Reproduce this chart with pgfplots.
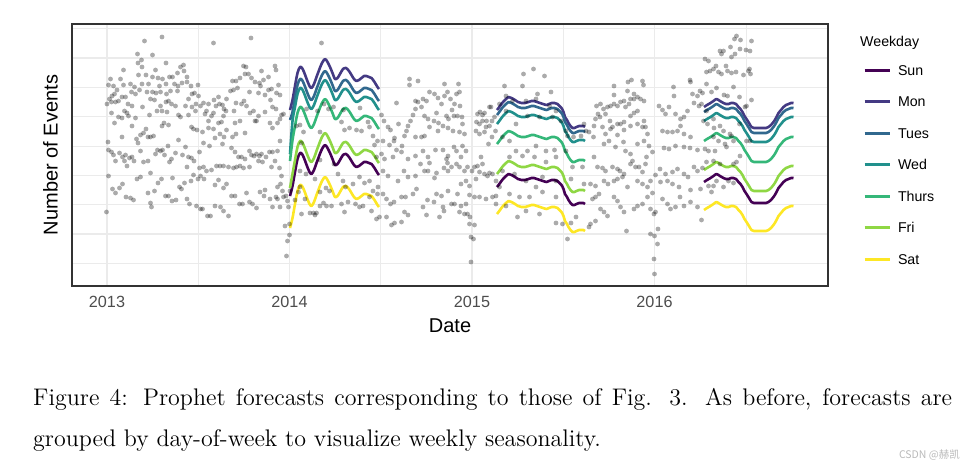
\documentclass[border=0pt]{standalone}
\usepackage{pgfplots}
\pgfplotsset{compat=1.18}
\usepackage{pgfplotstable}
\usepackage{fontspec}
\setmainfont{Liberation Sans}
\newfontfamily\cjkfont{Noto Sans CJK SC}
\font\capfont="[lmroman12-regular]" at 24pt
\definecolor{c1}{HTML}{440154}
\definecolor{c2}{HTML}{443A83}
\definecolor{c3}{HTML}{31688E}
\definecolor{c4}{HTML}{21908C}
\definecolor{c5}{HTML}{35B779}
\definecolor{c6}{HTML}{8FD744}
\definecolor{c7}{HTML}{FDE725}
\definecolor{gridc}{HTML}{EBEBEB}
\definecolor{framec}{HTML}{333333}
\definecolor{tickc}{HTML}{4D4D4D}
% observed daily events: d = days since 2013-01-01, y = count (arbitrary units)
\pgfplotstableread[row sep=\\]{d y\\
75 245\\ 110 249\\ 61 232\\ 91 231\\ 69 226\\ 62 223\\ 70 219\\ 118 223\\ 33 216\\ 97 216\\ 78 211\\ 63 211\\ 7 207\\ 27 207\\ 91 209\\ 102 208\\ 111 207\\ 125 209\\ 131 209\\ 141 213\\ 147 219\\ 153 221\\ 154 215\\ 160 209\\ 3 201\\ 13 200\\ 33 201\\ 47 202\\ 55 199\\ 70 202\\ 83 202\\ 105 200\\ 118 202\\ 135 202\\ 142 200\\ 150 203\\ 160 204\\ 168 200\\ 182 201\\ 20 196\\ 15 192\\ 10 190\\ 37 189\\ 49 194\\ 57 192\\ 65 196\\ 80 194\\ 91 194\\ 98 193\\ 107 194\\ 119 192\\ 127 195\\ 141 195\\ 170 192\\ 175 193\\ 183 190\\ 5 187\\ 0 182\\ 9 184\\ 17 184\\ 23 185\\ 30 189\\ 42 182\\ 50 180\\ 71 179\\ 87 187\\ 95 186\\ 107 180\\ 118 184\\ 123 185\\ 129 182\\ 137 180\\ 157 180\\ 163 187\\ 170 179\\ 178 182\\ 187 180\\ 9 173\\ 23 169\\ 30 168\\ 35 175\\ 40 173\\ 43 170\\ 57 168\\ 85 171\\ 100 175\\ 110 175\\ 120 174\\ 143 171\\ 147 169\\ 163 171\\ 177 175\\ 15 163\\ 30 149\\ 50 160\\ 59 147\\ 62 143\\ 67 151\\ 73 153\\ 78 157\\ 82 149\\ 87 149\\ 93 150\\ 110 160\\ 114 163\\ 123 161\\ 143 146\\ 157 139\\ 169 159\\ 173 157\\ 180 156\\ 2 144\\ 3 136\\ 9 134\\ 13 131\\ 17 125\\ 25 133\\ 31 129\\ 37 131\\ 35 125\\ 40 120\\ 45 128\\ 54 125\\ 50 129\\ 67 135\\ 73 124\\ 82 125\\ 87 113\\ 97 132\\ 101 136\\ 107 135\\ 111 136\\ 115 131\\ 122 140\\ 129 127\\ 125 124\\ 137 133\\ 151 131\\ 160 119\\ 163 129\\ 169 128\\ 174 125\\ 185 134\\ 185 118\\ 3 110\\ 11 97\\ 17 93\\ 25 98\\ 31 102\\ 38 89\\ 47 88\\ 53 86\\ 60 107\\ 67 109\\ 82 93\\ 87 83\\ 89 79\\ 95 95\\ 102 103\\ 109 107\\ 117 90\\ 123 90\\ 131 108\\ 130 85\\ 138 86\\ 145 99\\ 149 97\\ 155 103\\ 160 87\\ 165 82\\ 168 105\\ 173 111\\ 179 80\\ 182 107\\ 187 77\\ 187 110\\ -1 74\\
213 243\\ 288 248\\ 273 220\\ 278 219\\ 258 205\\ 266 208\\ 276 212\\ 283 212\\ 289 208\\ 296 204\\ 305 203\\ 309 215\\ 313 206\\ 323 209\\ 336 220\\ 338 216\\ 343 201\\ 307 200\\ 251 205\\ 247 195\\ 253 196\\ 261 198\\ 285 194\\ 303 193\\ 316 191\\ 323 196\\ 329 197\\ 327 186\\ 339 193\\ 346 191\\ 193 183\\ 203 182\\ 214 186\\ 223 189\\ 218 180\\ 225 182\\ 231 181\\ 234 177\\ 238 175\\ 239 187\\ 254 175\\ 258 183\\ 269 182\\ 279 180\\ 274 185\\ 286 173\\ 293 175\\ 299 165\\ 303 170\\ 316 174\\ 331 179\\ 338 177\\ 349 171\\ 353 172\\ 196 172\\ 199 175\\ 203 165\\ 209 170\\ 213 173\\ 223 163\\ 229 164\\ 233 170\\ 256 163\\ 266 165\\ 296 165\\ 326 163\\ 331 158\\ 341 163\\ 346 167\\ 191 154\\ 203 158\\ 213 157\\ 216 148\\ 226 152\\ 234 149\\ 239 156\\ 251 149\\ 258 152\\ 276 153\\ 346 145\\ 193 143\\ 205 140\\ 231 142\\ 249 138\\ 256 134\\ 263 129\\ 269 129\\ 276 127\\ 285 135\\ 289 131\\ 294 130\\ 299 132\\ 305 130\\ 309 132\\ 318 129\\ 325 134\\ 331 134\\ 341 135\\ 336 125\\ 345 118\\ 303 125\\ 311 124\\ 285 119\\ 273 118\\ 266 120\\ 259 119\\ 253 118\\ 243 119\\ 233 120\\ 226 120\\ 219 120\\ 209 116\\ 199 115\\ 193 119\\ 329 119\\ 194 107\\ 216 101\\ 223 106\\ 233 98\\ 239 102\\ 249 90\\ 256 90\\ 279 93\\ 306 94\\ 314 90\\ 316 96\\ 326 87\\ 341 99\\ 347 102\\ 349 110\\ 353 89\\ 338 89\\ 201 70\\ 207 70\\ 191 77\\ 216 80\\ 227 79\\ 233 75\\ 243 70\\ 265 82\\ 271 82\\ 285 84\\ 291 82\\ 299 78\\ 331 79\\ 341 87\\ 346 79\\ 361 85\\ 358 90\\ 363 79\\ 356 60\\ 365 62\\ 365 51\\ 361 45\\ 359 30\\ 366 95\\ 351 95\\
386 115\\ 398 112\\ 416 107\\ 439 80\\ 426 80\\ 416 71\\ 419 73\\ 396 87\\ 383 94\\ 426 94\\ 438 98\\ 445 95\\ 389 72\\ 399 177\\ 421 175\\ 434 182\\ 443 177\\ 429 243\\ 379 160\\ 393 154\\ 433 83\\ 413 73\\ 386 161\\ 389 143\\ 426 154\\ 386 99\\ 376 86\\ 406 73\\ 426 126\\ 453 179\\ 473 176\\ 506 178\\ 539 129\\
469 164\\ 475 156\\ 485 158\\ 499 156\\ 509 155\\ 522 164\\ 525 159\\ 532 150\\ 535 141\\ 541 145\\ 454 122\\ 462 112\\ 472 105\\ 477 99\\ 492 102\\ 505 109\\ 515 103\\ 525 105\\ 532 95\\ 541 92\\ 469 82\\ 482 84\\ 497 82\\ 505 79\\ 512 80\\ 525 89\\ 449 80\\ 475 74\\ 529 75\\ 549 171\\ 554 165\\ 562 159\\ 567 156\\ 575 148\\ 583 162\\ 579 136\\ 590 140\\ 595 150\\ 599 155\\ 602 160\\ 607 165\\ 612 171\\ 617 177\\ 622 184\\ 632 187\\ 639 185\\ 645 194\\ 655 192\\ 662 188\\ 669 182\\ 675 190\\ 681 194\\ 687 187\\ 695 182\\ 699 192\\ 675 202\\ 605 207\\ 605 201\\ 622 205\\ 579 183\\ 617 185\\ 629 179\\ 635 170\\ 642 167\\ 654 165\\ 659 173\\ 663 163\\ 679 170\\ 683 167\\ 690 176\\ 694 170\\ 617 149\\ 629 149\\ 635 150\\ 645 159\\ 662 155\\ 672 160\\ 682 158\\ 692 155\\ 552 145\\ 565 141\\ 574 145\\ 549 132\\ 555 127\\ 572 129\\ 589 134\\ 602 127\\ 617 130\\ 632 135\\ 642 129\\ 657 136\\ 672 136\\ 682 130\\ 694 139\\ 699 135\\ 552 115\\ 562 110\\ 582 105\\ 594 115\\ 602 109\\ 617 110\\ 627 122\\ 635 115\\ 642 115\\ 645 123\\ 655 108\\ 659 113\\ 679 127\\ 681 123\\ 674 118\\ 682 115\\ 689 119\\ 699 122\\ 542 99\\ 559 87\\ 552 92\\ 567 82\\ 574 84\\ 589 89\\ 597 89\\ 612 92\\ 619 97\\ 632 79\\ 641 86\\ 654 84\\ 659 92\\ 669 90\\ 672 79\\ 682 95\\ 689 82\\ 695 82\\ 539 67\\ 545 69\\ 559 69\\ 569 61\\ 575 63\\ 589 64\\ 595 74\\ 602 71\\ 639 71\\ 665 69\\ 674 75\\
703 202\\ 705 194\\ 706 180\\ 701 170\\ 710 169\\ 711 162\\ 705 154\\ 715 152\\ 711 140\\ 718 135\\ 708 129\\ 705 119\\ 715 115\\ 721 119\\ 730 115\\ 735 119\\ 741 120\\ 745 114\\ 755 112\\ 761 110\\ 765 113\\ 771 112\\ 738 107\\ 718 105\\ 708 102\\ 725 100\\ 701 92\\ 725 91\\ 735 89\\ 745 89\\ 758 87\\ 771 89\\ 778 90\\ 718 82\\ 708 80\\ 705 74\\ 715 72\\ 721 72\\ 726 69\\ 725 62\\ 735 61\\ 728 49\\ 733 47\\ 728 24\\ 741 172\\ 746 174\\ 751 171\\ 755 173\\ 759 165\\ 765 179\\ 768 179\\ 739 164\\ 745 162\\ 751 165\\ 758 159\\ 765 160\\ 770 165\\ 775 169\\ 738 155\\ 745 152\\ 755 154\\ 763 142\\ 770 149\\ 777 155\\ 748 129\\ 751 122\\ 778 105\\ 795 200\\ 833 212\\ 853 217\\ 875 210\\ 831 200\\ 861 192\\ 888 194\\ 785 182\\ 798 190\\ 811 185\\ 838 185\\ 858 187\\ 885 180\\ 898 175\\ 908 165\\ 918 155\\ 921 150\\ 933 149\\ 948 150\\ 958 155\\ 798 175\\ 818 162\\ 841 170\\ 865 169\\ 891 169\\ 791 149\\ 805 145\\ 818 135\\ 841 135\\ 858 140\\ 878 135\\ 895 136\\ 918 135\\ 805 129\\ 831 130\\ 855 129\\ 878 124\\ 898 129\\ 931 119\\ 951 119\\ 791 115\\ 815 112\\ 838 105\\ 858 99\\ 871 109\\ 898 105\\ 928 107\\ 785 99\\ 805 92\\ 825 89\\ 845 89\\ 871 94\\ 898 89\\ 778 82\\ 798 80\\ 821 69\\ 838 75\\ 865 72\\ 898 63\\ 911 62\\ 928 63\\ 938 69\\ 921 47\\
954 162\\ 964 154\\ 973 149\\ 974 160\\ 977 167\\ 982 172\\ 979 180\\ 987 182\\ 993 177\\ 1001 179\\ 1007 180\\ 1014 182\\ 1021 180\\ 1027 184\\ 1034 185\\ 1037 179\\ 1044 182\\ 1047 187\\ 1054 187\\ 1061 189\\ 1067 187\\ 1074 185\\ 1042 204\\ 1049 206\\ 1071 205\\ 1073 201\\ 1014 200\\ 1014 191\\ 1041 195\\ 1054 192\\ 986 169\\ 997 172\\ 1006 165\\ 1011 159\\ 1021 162\\ 1027 162\\ 1034 164\\ 1047 170\\ 1054 173\\ 1061 175\\ 1074 165\\ 1077 159\\ 991 159\\ 997 152\\ 1007 157\\ 1021 151\\ 1034 156\\ 1047 160\\ 1061 162\\ 1071 159\\ 1081 152\\ 974 129\\ 981 119\\ 991 118\\ 997 115\\ 1011 119\\ 1021 117\\ 1026 115\\ 1034 112\\ 1047 122\\ 1051 125\\ 1057 119\\ 1064 119\\ 1071 114\\ 1077 122\\ 1037 135\\ 1047 132\\ 1061 142\\ 1074 145\\ 1084 140\\ 1079 129\\ 1091 134\\ 994 142\\ 1004 145\\ 1017 139\\ 1033 144\\ 954 102\\ 967 102\\ 977 100\\ 984 92\\ 977 89\\ 971 87\\ 994 105\\ 1002 102\\ 1014 105\\ 1021 107\\ 1031 109\\ 1041 99\\ 1061 105\\ 1071 102\\ 1081 99\\ 1087 105\\ 1097 111\\ 1091 93\\ 1081 89\\ 967 62\\ 977 65\\ 964 59\\ 987 77\\ 994 74\\ 1001 70\\ 1014 89\\ 1021 85\\ 1027 79\\ 1034 74\\ 1054 77\\ 1061 80\\ 1071 82\\ 1087 77\\ 1094 72\\ 1097 74\\ 1039 55\\ 1087 52\\ 1095 50\\ 1102 57\\ 1101 42\\ 1094 27\\ 1095 12\\ 1104 180\\ 1111 176\\ 1117 172\\ 1124 179\\ 1133 199\\ 1134 190\\ 1147 167\\ 1137 172\\ 1154 169\\ 1161 175\\ 1167 204\\ 1166 206\\ 1171 192\\ 1174 183\\ 1181 190\\ 1191 193\\ 1184 180\\ 1111 155\\ 1121 154\\ 1131 154\\ 1141 155\\ 1147 160\\ 1154 152\\ 1167 149\\ 1114 138\\ 1124 137\\ 1137 140\\ 1154 139\\ 1166 138\\ 1181 136\\ 1106 117\\ 1117 112\\ 1131 114\\ 1141 117\\ 1154 112\\ 1162 109\\ 1174 119\\ 1181 115\\ 1191 118\\ 1107 104\\ 1121 105\\ 1131 102\\ 1144 99\\ 1167 96\\ 1187 97\\ 1111 87\\ 1121 82\\ 1127 77\\ 1137 79\\ 1146 89\\ 1154 80\\ 1167 84\\ 1181 79\\ 1189 66\\
1259 250\\ 1255 247\\ 1267 246\\ 1289 245\\ 1247 239\\ 1233 235\\ 1229 232\\ 1226 235\\ 1256 232\\ 1249 229\\ 1266 237\\ 1278 236\\ 1286 235\\ 1196 227\\ 1203 225\\ 1218 220\\ 1213 217\\ 1206 215\\ 1199 214\\ 1223 214\\ 1229 212\\ 1238 220\\ 1241 215\\ 1249 213\\ 1258 214\\ 1273 211\\ 1285 217\\ 1287 212\\ 1283 215\\ 1199 202\\ 1186 195\\ 1209 194\\ 1219 198\\ 1234 191\\ 1241 190\\ 1253 199\\ 1265 189\\ 1289 186\\ 1279 180\\ 1276 179\\ 1189 182\\ 1199 175\\ 1213 167\\ 1193 165\\ 1201 162\\ 1214 158\\ 1226 160\\ 1233 155\\ 1246 152\\ 1249 150\\ 1265 162\\ 1213 149\\ 1223 145\\ 1236 142\\ 1279 145\\ 1286 145\\ 1196 137\\ 1203 135\\ 1216 135\\ 1239 139\\ 1253 145\\ 1266 130\\ 1199 124\\ 1213 125\\ 1226 122\\ 1253 122\\ 1259 124\\ 1219 105\\ 1233 99\\ 1243 105\\ 1253 103\\ 1203 100\\ 1213 100\\ 1209 94\\
}\events
% forecasts by weekday (three forecast windows, separated by nan rows)
\pgfplotstableread[row sep=\\]{d sun mon tue wed thu fri sat\\
366 90 176 166 132 125 98 58\\
371 100 186 174 165 146 112 68\\
376 114 200 188 179 160 126 82\\
381 127 213 201 192 173 139 95\\
386 133 219 207 198 179 145 101\\
390 132 218 206 197 178 144 100\\
394 128 214 202 193 174 140 96\\
400 120 206 194 185 166 132 88\\
405 114 200 188 179 160 126 82\\
409 112 198 186 177 158 124 80\\
414 116 202 190 181 162 128 84\\
419 123 209 197 188 169 135 91\\
425 131 217 205 196 177 143 99\\
430 137 223 211 202 183 149 105\\
436 141 227 215 206 187 153 109\\
441 138 224 212 203 184 150 106\\
446 133 219 207 198 179 145 101\\
451 127 213 201 192 173 139 95\\
456 121 207 195 186 167 133 89\\
461 122 208 196 187 168 134 90\\
466 126 212 200 191 172 138 94\\
472 131 217 205 196 177 143 99\\
478 132 218 206 197 178 144 100\\
484 129 215 203 194 175 141 97\\
489 125 211 199 190 171 137 93\\
494 121 207 195 186 167 133 89\\
499 119 205 193 184 165 131 87\\
504 120 206 194 185 166 132 88\\
509 122 208 196 187 168 134 90\\
514 124 210 198 189 170 136 92\\
519 124 210 198 189 170 136 92\\
524 123 209 197 188 169 135 91\\
529 122 208 196 187 168 134 90\\
535 118 204 192 183 164 130 86\\
541 113 199 187 178 159 125 81\\
544 111 197 185 176 157 123 79\\
600 nan nan nan nan nan nan nan\\
780 99 176 171 162 142 112 72\\
786 103 180 175 166 146 116 76\\
792 107 184 179 170 150 120 80\\
798 110 187 182 173 153 123 83\\
803 112 189 184 175 155 125 85\\
809 111 188 183 174 154 124 84\\
816 109 186 181 172 152 122 82\\
822 107 184 179 170 150 120 80\\
829 106 183 178 169 149 119 79\\
836 106 183 178 169 149 119 79\\
843 107 184 179 170 150 120 80\\
849 108 185 180 171 151 121 81\\
854 108 185 180 171 151 121 81\\
860 107 184 179 170 150 120 80\\
866 106 183 178 169 149 119 79\\
872 105 182 177 168 148 118 78\\
879 104 181 176 167 147 117 77\\
884 105 182 177 168 148 118 78\\
889 106 183 178 169 149 119 79\\
895 106 183 178 169 149 119 79\\
901 105 182 177 168 148 118 78\\
905 103 180 175 166 146 116 76\\
909 101 178 173 164 144 114 74\\
913 97 174 169 160 140 110 70\\
916 92 169 164 155 135 105 65\\
920 89 166 161 152 132 102 62\\
923 86 163 158 149 129 99 59\\
927 83 160 155 146 126 96 56\\
931 81 158 153 144 124 94 54\\
935 81 158 153 144 124 94 54\\
939 82 159 154 145 125 95 55\\
944 83 160 155 146 126 96 56\\
949 83 160 155 146 126 96 56\\
953 83 160 155 146 126 96 56\\
956 82 159 154 145 125 95 55\\
1100 nan nan nan nan nan nan nan\\
1194 104 179 174 165 145 116 76\\
1200 106 181 176 167 147 118 78\\
1207 108 183 178 169 149 120 80\\
1213 110 185 180 171 151 122 82\\
1219 112 187 182 173 153 124 84\\
1226 110 185 180 171 151 122 82\\
1233 108 183 178 169 149 120 80\\
1238 107 182 177 168 148 119 79\\
1243 107 182 177 168 148 119 79\\
1248 108 183 178 169 149 120 80\\
1253 108 183 178 169 149 120 80\\
1258 107 182 177 168 148 119 79\\
1263 104 179 174 165 145 116 76\\
1267 102 177 172 163 143 114 74\\
1271 99 174 169 160 140 111 71\\
1275 95 170 165 156 136 107 67\\
1279 92 167 162 153 133 104 64\\
1284 88 163 158 149 129 100 60\\
1289 84 159 154 145 125 96 56\\
1294 83 158 153 144 124 95 55\\
1299 83 158 153 144 124 95 55\\
1306 83 158 153 144 124 95 55\\
1313 83 158 153 144 124 95 55\\
1318 83 158 153 144 124 95 55\\
1323 84 159 154 145 125 96 56\\
1328 86 161 156 147 127 98 58\\
1333 89 164 159 150 130 101 61\\
1338 93 168 163 154 134 105 65\\
1343 98 173 168 159 139 110 70\\
1348 101 176 171 162 142 113 73\\
1353 104 179 174 165 145 116 76\\
1358 106 181 176 167 147 118 78\\
1363 107 182 177 168 148 119 79\\
1368 108 183 178 169 149 120 80\\
1373 108 183 178 169 149 120 80\\
}\fc
\begin{document}
\begin{tikzpicture}
\path[use as bounding box] (0,0) rectangle (967pt,-469pt);
\begin{axis}[
  at={(72pt,-286pt)}, anchor=south west,
  scale only axis, width=756pt, height=262pt,
  xmin=-70, xmax=1442, ymin=0, ymax=262,
  xtick={0,365,730,1095}, xticklabels={2013,2014,2015,2016},
  minor xtick={182,547,912,1278},
  ytick={52,110.7,169.3,228}, yticklabels={},
  minor ytick={22.7,81.3,140,198.7,257.3},
  grid=both,
  major grid style={color=gridc, line width=1.2pt},
  minor grid style={color=gridc, line width=0.6pt},
  major tick length=0pt, minor tick length=0pt,
  axis line style={color=framec, line width=1.1pt},
  unbounded coords=jump,
  xticklabel style={font=\fontsize{16.2}{18}\selectfont, text=tickc, inner sep=0pt, text height=11.6pt, text depth=0pt, yshift=-10pt},
  xlabel={Date},
  xlabel style={at={(axis description cs:0.5,0)}, anchor=north, yshift=-31.8pt, inner sep=0pt, text height=14.3pt, text depth=0pt, font=\fontsize{20}{24}\selectfont},
  ylabel={Number of Events},
  ylabel style={at={(axis description cs:-0.0189,0.5)}, anchor=south, inner sep=0pt, text height=14.3pt, text depth=0pt, font=\fontsize{20}{24}\selectfont},
  legend style={draw=none, fill=none, inner sep=0pt, outer sep=0pt,
    at={(1.0463,0.8439)}, anchor=north west,
    font=\fontsize{14.2}{17}\selectfont,
    row sep=21.3pt, column sep=7pt,
    nodes={inner sep=0pt, text height=10.2pt, text depth=0pt}},
  legend cell align=left,
  legend image code/.code={\draw[#1, line width=3pt] (0pt,0pt) -- (25pt,0pt);},
]
\addplot[only marks, mark=*, mark size=2.4pt, mark options={draw opacity=0, fill=black, fill opacity=0.33}, forget plot] table[x=d, y=y] {\events};
\addplot[c1, line width=2.6pt, mark=none, smooth, line join=round] table[x=d, y=sun] {\fc};
\addlegendentry{Sun}
\addplot[c2, line width=2.6pt, mark=none, smooth, line join=round] table[x=d, y=mon] {\fc};
\addlegendentry{Mon}
\addplot[c3, line width=2.6pt, mark=none, smooth, line join=round] table[x=d, y=tue] {\fc};
\addlegendentry{Tues}
\addplot[c4, line width=2.6pt, mark=none, smooth, line join=round] table[x=d, y=wed] {\fc};
\addlegendentry{Wed}
\addplot[c5, line width=2.6pt, mark=none, smooth, line join=round] table[x=d, y=thu] {\fc};
\addlegendentry{Thurs}
\addplot[c6, line width=2.6pt, mark=none, smooth, line join=round] table[x=d, y=fri] {\fc};
\addlegendentry{Fri}
\addplot[c7, line width=2.6pt, mark=none, smooth, line join=round] table[x=d, y=sat] {\fc};
\addlegendentry{Sat}
\end{axis}
\node[anchor=base west, inner sep=0pt, font=\fontsize{14.2}{17}\selectfont] at (860pt,-46.8pt) {Weekday};
\node[anchor=base west, inner sep=0pt] at (33pt,-405pt) {\capfont\makebox[919pt][s]{Figure 4: Prophet forecasts corresponding to those of Fig. 3. As before, forecasts are}};
\node[anchor=base west, inner sep=0pt] at (33pt,-446pt) {\capfont grouped by day-of-week to visualize weekly seasonality.};
\node[anchor=base east, inner sep=0pt, text=gray!55] at (960pt,-458pt) {\cjkfont\fontsize{10.5}{12}\selectfont CSDN @赫凯};
\end{tikzpicture}
\end{document}
